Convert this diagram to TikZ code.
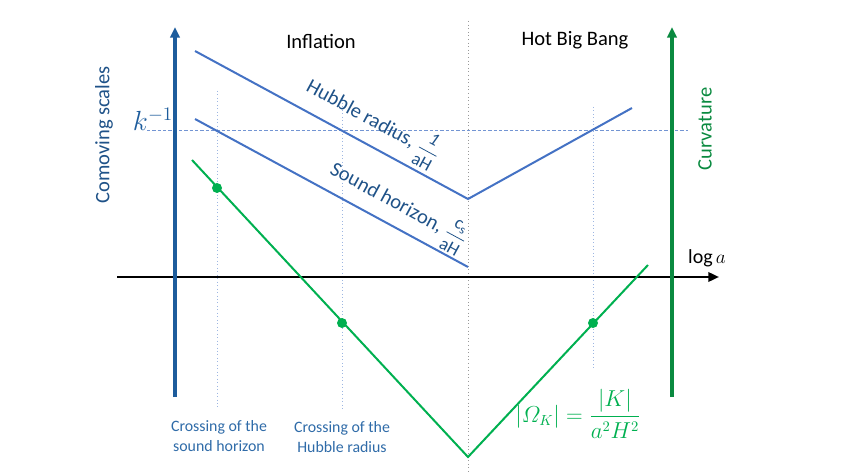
\documentclass[tikz,border=0pt]{standalone}
\usepackage{amsmath}
\usepackage{fontspec}
\setmainfont{Carlito}
\usetikzlibrary{arrows.meta}
\definecolor{axisblue}{HTML}{1D5C9C}
\definecolor{textblue}{HTML}{1F5288}
\definecolor{labelblue}{HTML}{2F6BA8}
\definecolor{lineblue}{HTML}{4472C4}
\definecolor{guideblue}{HTML}{9DB6E2}
\definecolor{axisgreen}{HTML}{0A8A40}
\definecolor{linegreen}{HTML}{00B050}
\newcommand\fr[1]{\hbox{\fontsize{13.5}{13.5}\selectfont #1}}
\begin{document}
\begin{tikzpicture}[x=0.75pt,y=-0.75pt,
  axisline/.style={line width=2.4pt},
  curve/.style={line width=1.5pt, line join=miter},
  guide/.style={guideblue, line width=0.6pt, dotted},
  kguide/.style={lineblue!75, line width=0.6pt, dash pattern=on 2.5pt off 1.5pt},
  dotmark/.style={circle, fill=linegreen, inner sep=0pt, minimum size=7.5pt},
  lbl/.style={font=\fontsize{15.4}{18}\selectfont},
  small/.style={font=\fontsize{11.9}{14.5}\selectfont, align=center, text=labelblue}]
\useasboundingbox (0,0) rectangle (843,474);

% coordinates
\coordinate (cT) at (468,21);
\coordinate (cB) at (468,474);
\coordinate (kL) at (147,130);
\coordinate (kR) at (688,130);
\coordinate (g1T) at (217,91);
\coordinate (g1B) at (217,407);
\coordinate (g2T) at (342,96);
\coordinate (g2B) at (342,409);
\coordinate (g3T) at (593,107);
\coordinate (g3B) at (593,369);
\coordinate (hA) at (195,51);
\coordinate (hV) at (468,199);
\coordinate (hB) at (632,108);
\coordinate (sA) at (195,119);
\coordinate (sB) at (468,267);
\coordinate (gA) at (192,160);
\coordinate (gV) at (468,457);
\coordinate (gB) at (648,265);
\coordinate (xL) at (117,277);
\coordinate (xR) at (719,277);
\coordinate (lB) at (175,397);
\coordinate (lT) at (175,27);
\coordinate (rB) at (672,397);
\coordinate (rT) at (672,27);

% guides
\draw[gray!80, line width=0.7pt, dotted] (cT) -- (cB);
\draw[kguide] (kL) -- (kR);
\draw[guide] (g1T) -- (g1B);
\draw[guide] (g2T) -- (g2B);
\draw[guide] (g3T) -- (g3B);

% axes
\draw[black, -{Triangle[length=8pt,width=7pt]}, line width=1.8pt] (xL) -- (xR);
\draw[axisline, axisblue, -{Triangle[length=8pt,width=7pt]}] (lB) -- (lT);
\draw[axisline, axisgreen, -{Triangle[length=8pt,width=7pt]}] (rB) -- (rT);

% curves
\draw[curve, lineblue] (hA) -- (hV) -- (hB);
\draw[curve, lineblue] (sA) -- (sB);
\draw[curve, linegreen] (gA) -- (gV) -- (gB);

% dots
\node[dotmark] (d1) at (217,188) {};
\node[dotmark] (d2) at (342,323) {};
\node[dotmark] (d3) at (593,323) {};

% labels
\node[lbl] (infl) at (321,41) {Inflation};
\node[lbl] (hbb) at (575,40) {Hot Big Bang};
\node[lbl, text=textblue, rotate=90] (com) at (104,135) {Comoving scales};
\node[lbl, text=axisgreen, rotate=90] (curv) at (705,129) {Curvature};
\node[text=axisblue, font=\fontsize{20}{24}\selectfont] (kinv) at (153,119) {$k^{-1}$};
\node[font=\fontsize{15}{18}\selectfont] (loga) at (707,258) {$\log a$};
\node[lbl, text=textblue, rotate=-28.5] (hub) at (373,121) {Hubble radius, $\dfrac{\fr{\itshape 1}}{\fr{aH}}$};
\node[lbl, text=textblue, rotate=-28.5] (snd) at (398,206) {Sound horizon, $\dfrac{\fr{c\textsubscript{s}}}{\fr{aH}}$};
\node[small] (cs) at (219,436) {Crossing of the\\sound horizon};
\node[small] (ch) at (342,437) {Crossing of the\\Hubble radius};
\node[text=linegreen, font=\fontsize{16}{19}\selectfont] (omega) at (578,414) {$\displaystyle |\varOmega_K| = \frac{|K|}{a^2H^2}$};
\end{tikzpicture}
\end{document}
